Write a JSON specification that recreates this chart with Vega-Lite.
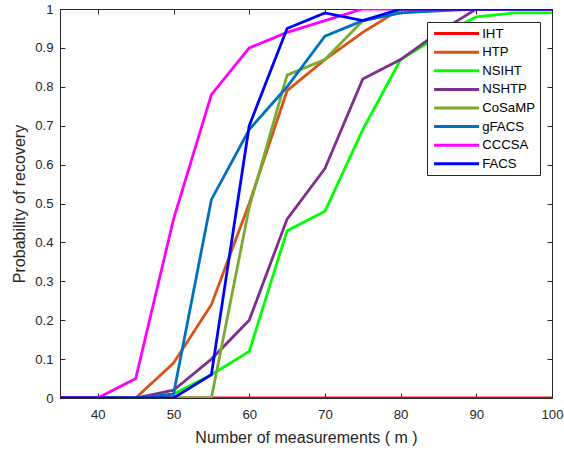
{
  "$schema": "https://vega.github.io/schema/vega-lite/v6.json",
  "width": 492,
  "height": 389,
  "autosize": {"type": "none"},
  "padding": {"left": 60, "top": 9, "right": 12, "bottom": 54},
  "background": "white",
  "config": {
    "font": "Liberation Sans",
    "view": {"stroke": "#262626", "strokeWidth": 1},
    "axis": {
      "grid": false,
      "domainColor": "#262626",
      "tickColor": "#262626",
      "labelColor": "#262626",
      "titleColor": "#262626",
      "labelFontSize": 13.2,
      "titleFontSize": 16,
      "titleFontWeight": "normal",
      "tickSize": -5,
      "labelFlush": false,
      "labelOverlap": false,
      "labelFont": "Liberation Sans",
      "titleFont": "Liberation Sans"
    }
  },
  "datasets": {
    "curves": [
      {"method": "IHT", "m": 35, "p": 0}, {"method": "IHT", "m": 40, "p": 0}, {"method": "IHT", "m": 45, "p": 0}, {"method": "IHT", "m": 50, "p": 0}, {"method": "IHT", "m": 55, "p": 0}, {"method": "IHT", "m": 60, "p": 0}, {"method": "IHT", "m": 65, "p": 0}, {"method": "IHT", "m": 70, "p": 0}, {"method": "IHT", "m": 75, "p": 0}, {"method": "IHT", "m": 80, "p": 0}, {"method": "IHT", "m": 85, "p": 0}, {"method": "IHT", "m": 90, "p": 0}, {"method": "IHT", "m": 95, "p": 0}, {"method": "IHT", "m": 100, "p": 0},
      {"method": "HTP", "m": 35, "p": 0}, {"method": "HTP", "m": 40, "p": 0}, {"method": "HTP", "m": 45, "p": 0}, {"method": "HTP", "m": 50, "p": 0.09}, {"method": "HTP", "m": 55, "p": 0.24}, {"method": "HTP", "m": 60, "p": 0.5}, {"method": "HTP", "m": 65, "p": 0.79}, {"method": "HTP", "m": 70, "p": 0.87}, {"method": "HTP", "m": 75, "p": 0.94}, {"method": "HTP", "m": 80, "p": 1}, {"method": "HTP", "m": 85, "p": 1}, {"method": "HTP", "m": 90, "p": 1}, {"method": "HTP", "m": 95, "p": 1}, {"method": "HTP", "m": 100, "p": 1},
      {"method": "NSIHT", "m": 35, "p": 0}, {"method": "NSIHT", "m": 40, "p": 0}, {"method": "NSIHT", "m": 45, "p": 0}, {"method": "NSIHT", "m": 50, "p": 0.01}, {"method": "NSIHT", "m": 55, "p": 0.06}, {"method": "NSIHT", "m": 60, "p": 0.12}, {"method": "NSIHT", "m": 65, "p": 0.43}, {"method": "NSIHT", "m": 70, "p": 0.48}, {"method": "NSIHT", "m": 75, "p": 0.69}, {"method": "NSIHT", "m": 80, "p": 0.87}, {"method": "NSIHT", "m": 85, "p": 0.93}, {"method": "NSIHT", "m": 90, "p": 0.98}, {"method": "NSIHT", "m": 95, "p": 0.99}, {"method": "NSIHT", "m": 100, "p": 0.99},
      {"method": "NSHTP", "m": 35, "p": 0}, {"method": "NSHTP", "m": 40, "p": 0}, {"method": "NSHTP", "m": 45, "p": 0}, {"method": "NSHTP", "m": 50, "p": 0.02}, {"method": "NSHTP", "m": 55, "p": 0.1}, {"method": "NSHTP", "m": 60, "p": 0.2}, {"method": "NSHTP", "m": 65, "p": 0.46}, {"method": "NSHTP", "m": 70, "p": 0.59}, {"method": "NSHTP", "m": 75, "p": 0.82}, {"method": "NSHTP", "m": 80, "p": 0.87}, {"method": "NSHTP", "m": 85, "p": 0.94}, {"method": "NSHTP", "m": 90, "p": 1}, {"method": "NSHTP", "m": 95, "p": 1}, {"method": "NSHTP", "m": 100, "p": 1},
      {"method": "CoSaMP", "m": 35, "p": 0}, {"method": "CoSaMP", "m": 40, "p": 0}, {"method": "CoSaMP", "m": 45, "p": 0}, {"method": "CoSaMP", "m": 50, "p": 0}, {"method": "CoSaMP", "m": 55, "p": 0}, {"method": "CoSaMP", "m": 60, "p": 0.49}, {"method": "CoSaMP", "m": 65, "p": 0.83}, {"method": "CoSaMP", "m": 70, "p": 0.87}, {"method": "CoSaMP", "m": 75, "p": 0.97}, {"method": "CoSaMP", "m": 80, "p": 0.99}, {"method": "CoSaMP", "m": 85, "p": 1}, {"method": "CoSaMP", "m": 90, "p": 1}, {"method": "CoSaMP", "m": 95, "p": 1}, {"method": "CoSaMP", "m": 100, "p": 1},
      {"method": "gFACS", "m": 35, "p": 0}, {"method": "gFACS", "m": 40, "p": 0}, {"method": "gFACS", "m": 45, "p": 0}, {"method": "gFACS", "m": 50, "p": 0.01}, {"method": "gFACS", "m": 55, "p": 0.51}, {"method": "gFACS", "m": 60, "p": 0.69}, {"method": "gFACS", "m": 65, "p": 0.8}, {"method": "gFACS", "m": 70, "p": 0.93}, {"method": "gFACS", "m": 75, "p": 0.97}, {"method": "gFACS", "m": 80, "p": 0.99}, {"method": "gFACS", "m": 85, "p": 0.995}, {"method": "gFACS", "m": 90, "p": 1}, {"method": "gFACS", "m": 95, "p": 1}, {"method": "gFACS", "m": 100, "p": 1},
      {"method": "CCCSA", "m": 35, "p": 0}, {"method": "CCCSA", "m": 40, "p": 0}, {"method": "CCCSA", "m": 45, "p": 0.05}, {"method": "CCCSA", "m": 50, "p": 0.46}, {"method": "CCCSA", "m": 55, "p": 0.78}, {"method": "CCCSA", "m": 60, "p": 0.9}, {"method": "CCCSA", "m": 65, "p": 0.94}, {"method": "CCCSA", "m": 70, "p": 0.97}, {"method": "CCCSA", "m": 75, "p": 1}, {"method": "CCCSA", "m": 80, "p": 1}, {"method": "CCCSA", "m": 85, "p": 1}, {"method": "CCCSA", "m": 90, "p": 1}, {"method": "CCCSA", "m": 95, "p": 1}, {"method": "CCCSA", "m": 100, "p": 1},
      {"method": "FACS", "m": 35, "p": 0}, {"method": "FACS", "m": 40, "p": 0}, {"method": "FACS", "m": 45, "p": 0}, {"method": "FACS", "m": 50, "p": 0}, {"method": "FACS", "m": 55, "p": 0.06}, {"method": "FACS", "m": 60, "p": 0.7}, {"method": "FACS", "m": 65, "p": 0.95}, {"method": "FACS", "m": 70, "p": 0.99}, {"method": "FACS", "m": 75, "p": 0.97}, {"method": "FACS", "m": 80, "p": 1}, {"method": "FACS", "m": 85, "p": 1}, {"method": "FACS", "m": 90, "p": 1}, {"method": "FACS", "m": 95, "p": 1}, {"method": "FACS", "m": 100, "p": 1}
    ]
  },
  "data": {"name": "curves"},
  "layer": [
    {
      "mark": {"type": "line", "strokeWidth": 2.8, "clip": true},
      "encoding": {
        "x": {
          "field": "m", "type": "quantitative",
          "scale": {"domain": [35, 100], "nice": false, "zero": false},
          "axis": {"orient": "bottom", "values": [40, 50, 60, 70, 80, 90, 100], "title": "Number of measurements ( m )", "labelPadding": 15, "titlePadding": 9}
        },
        "y": {
          "field": "p", "type": "quantitative",
          "scale": {"domain": [0, 1], "nice": false},
          "axis": {"orient": "left", "values": [0, 0.1, 0.2, 0.3, 0.4, 0.5, 0.6, 0.7, 0.8, 0.9, 1], "format": "~g", "title": "Probability of recovery", "labelPadding": 12, "titlePadding": 7}
        },
        "color": {
          "field": "method", "type": "nominal",
          "scale": {
            "domain": ["IHT", "HTP", "NSIHT", "NSHTP", "CoSaMP", "gFACS", "CCCSA", "FACS"],
            "range": ["#ff0000", "#d95319", "#00ff00", "#7e2f8e", "#77ac30", "#0072bd", "#ff00ff", "#0000ff"]
          },
          "legend": {
            "orient": "none", "legendX": 367, "legendY": 13,
            "title": null,
            "fillColor": "white", "strokeColor": "#262626", "padding": 5,
            "symbolType": "M-5,0H5", "symbolSize": 81, "symbolStrokeWidth": 3,
            "symbolOffset": 18, "labelOffset": 19,
            "labelFontSize": 13.2, "labelColor": "#000000", "labelFont": "Liberation Sans",
            "rowPadding": 4.6
          }
        },
        "order": {"field": "m", "type": "quantitative"}
      }
    },
    {
      "mark": {"type": "line", "opacity": 0},
      "encoding": {
        "x": {"field": "m", "type": "quantitative", "axis": {"orient": "top", "values": [40, 50, 60, 70, 80, 90, 100], "labels": false, "title": null}},
        "y": {"field": "p", "type": "quantitative", "axis": {"orient": "right", "values": [0, 0.1, 0.2, 0.3, 0.4, 0.5, 0.6, 0.7, 0.8, 0.9, 1], "labels": false, "title": null}},
        "detail": {"field": "method"}
      }
    }
  ],
  "resolve": {"axis": {"x": "independent", "y": "independent"}}
}
